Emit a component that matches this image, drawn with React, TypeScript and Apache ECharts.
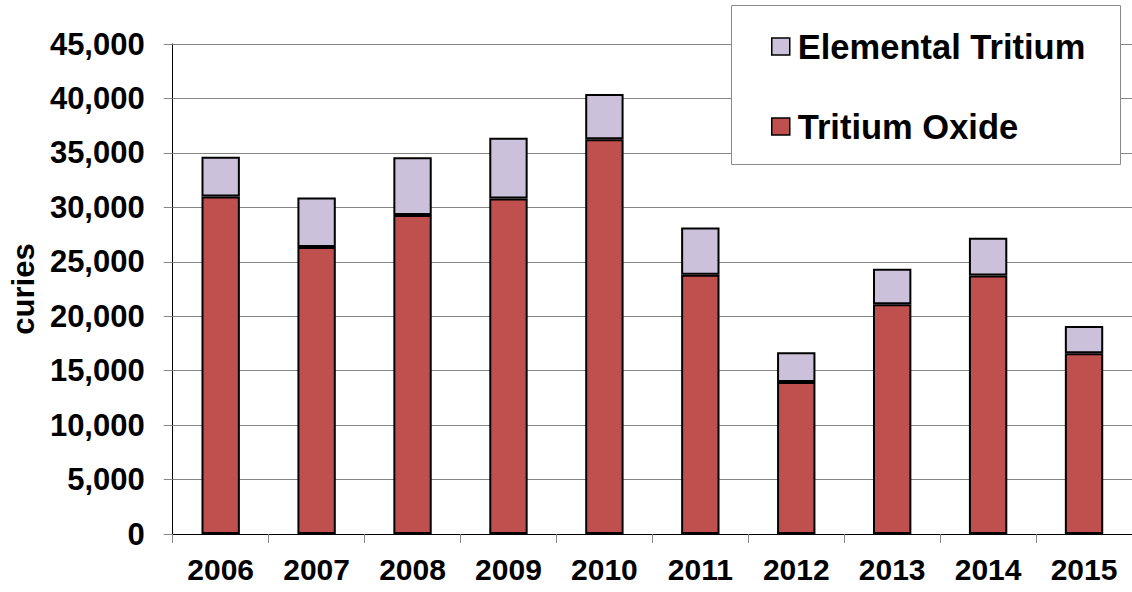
import React, { useEffect, useRef } from "react";
import * as echarts from "echarts";

// Annual tritium releases, in curies
const years = ["2006", "2007", "2008", "2009", "2010", "2011", "2012", "2013", "2014", "2015"];
const tritiumOxide = [31000, 26350, 29300, 30800, 36250, 23800, 13950, 21100, 23750, 16600];
const elementalTritium = [3650, 4550, 5300, 5600, 4150, 4350, 2750, 3250, 3450, 2500];
const legendOrder = ["Elemental Tritium", "Tritium Oxide"];

const FONT = '"Liberation Sans", Arial, Helvetica, sans-serif';

export default function App() {
  const ref = useRef<HTMLDivElement>(null);

  useEffect(() => {
    if (!ref.current) return;
    const chart = echarts.init(ref.current, undefined, { renderer: "svg" });
    chart.setOption({
      animation: false,
      backgroundColor: "#ffffff",
      grid: { left: 165, right: -7, top: 44, bottom: 58, containLabel: false },
      graphic: {
        elements: [
          {
            type: "rect",
            z: 5,
            shape: { x: 731.5, y: 5.5, width: 389, height: 159 },
            style: { fill: "#ffffff", stroke: "#8a8a8a", lineWidth: 1 },
          },
        ],
      },
      legend: {
        z: 10,
        orient: "vertical",
        left: 771,
        top: 29,
        padding: 0,
        itemGap: 45,
        itemWidth: 18,
        itemHeight: 17,
        icon: "rect",
        data: legendOrder,
        itemStyle: { borderColor: "#000000", borderWidth: 1.5 },
        textStyle: {
          fontFamily: FONT,
          fontWeight: "bold",
          fontSize: 34.5,
          lineHeight: 35,
          color: "#000000",
          padding: [0, 0, 0, 3],
        },
      },
      xAxis: {
        type: "category",
        data: years,
        axisLine: { show: true, lineStyle: { color: "#000000", width: 1 } },
        axisTick: { show: true, length: 9, lineStyle: { color: "#888888", width: 1 } },
        axisLabel: {
          margin: 20,
          fontFamily: FONT,
          fontWeight: "bold",
          fontSize: 30,
          color: "#000000",
        },
      },
      yAxis: {
        type: "value",
        min: 0,
        max: 45000,
        interval: 5000,
        name: "curies",
        nameLocation: "middle",
        nameGap: 132,
        nameTextStyle: {
          fontFamily: FONT,
          fontWeight: "bold",
          fontSize: 31,
          color: "#000000",
        },
        axisLine: { show: true, lineStyle: { color: "#000000", width: 1 } },
        axisTick: { show: true, length: 9, lineStyle: { color: "#888888", width: 1 } },
        splitLine: { show: true, lineStyle: { color: "#858585", width: 1 } },
        axisLabel: {
          margin: 28,
          fontFamily: FONT,
          fontWeight: "bold",
          fontSize: 31,
          color: "#000000",
          formatter: (v: number) => v.toLocaleString("en-US"),
        },
      },
      series: [
        {
          name: "Tritium Oxide",
          type: "bar",
          stack: "total",
          barWidth: "40%",
          data: tritiumOxide,
          itemStyle: { color: "#C0504D", borderColor: "#000000", borderWidth: 2 },
        },
        {
          name: "Elemental Tritium",
          type: "bar",
          stack: "total",
          barWidth: "40%",
          data: elementalTritium,
          itemStyle: { color: "#CCC1DA", borderColor: "#000000", borderWidth: 2 },
        },
      ],
    });
    return () => chart.dispose();
  }, []);

  return (
    <div
      ref={ref}
      style={{ position: "fixed", left: 0, top: 0, width: 1132, height: 592 }}
    />
  );
}
